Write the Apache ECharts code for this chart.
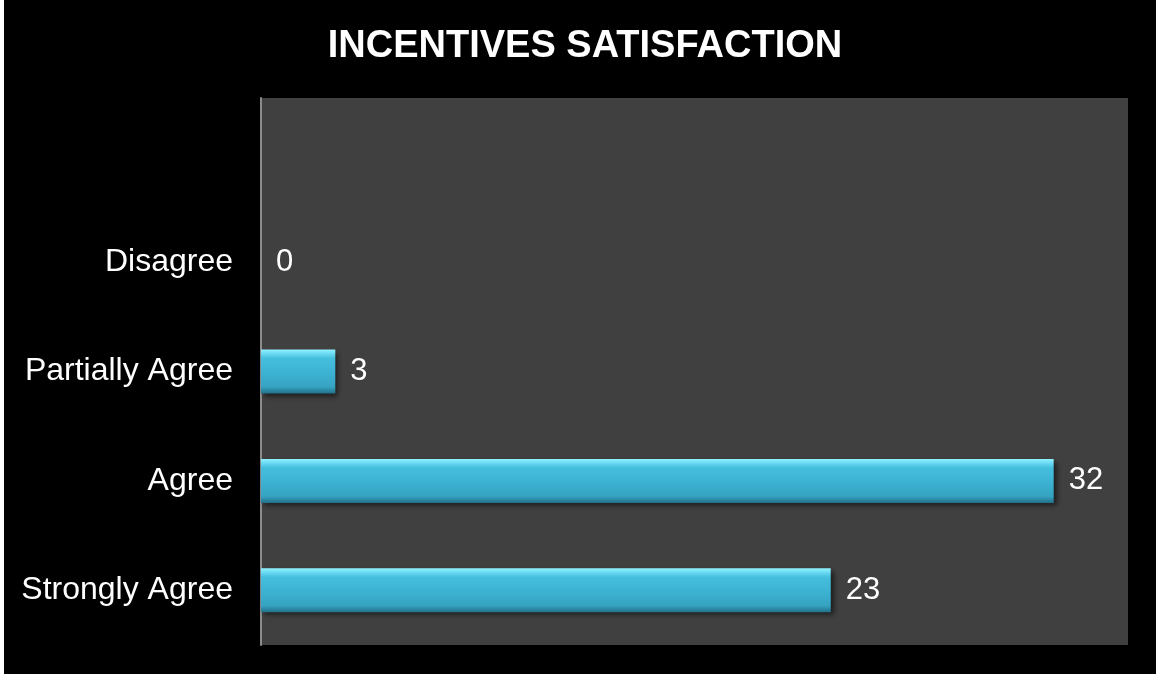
<!DOCTYPE html>
<html>
<head>
<meta charset="utf-8">
<script src="https://cdn.jsdelivr.net/npm/echarts@6/dist/echarts.min.js"></script>
<style>
  html, body { margin: 0; padding: 0; background: #ffffff; width: 1156px; height: 675px; overflow: hidden; }
  #chart { position: absolute; left: 4px; top: 0; width: 1152px; height: 674px; background: #000000; }
</style>
</head>
<body>
<div id="chart"></div>
<script>
// Survey responses, listed bottom to top; the top slot is left empty.
const categories = ['Strongly Agree', 'Agree', 'Partially Agree', 'Disagree', ''];
const responses = [23, 32, 3, 0, null];
const axisMax = 35;

const chart = echarts.init(document.getElementById('chart'), null, { renderer: 'canvas' });

const barFill = new echarts.graphic.LinearGradient(0, 0, 0, 1, [
  { offset: 0, color: '#90f4ff' },
  { offset: 0.1, color: '#6ad8f2' },
  { offset: 0.2, color: '#45bfde' },
  { offset: 0.55, color: '#3cb1d1' },
  { offset: 0.85, color: '#36a3c1' },
  { offset: 1, color: '#22708a' }
]);

chart.setOption({
  backgroundColor: '#000000',
  animation: false,
  title: {
    text: 'INCENTIVES SATISFACTION',
    left: 576,
    top: 23,
    textAlign: 'center',
    textStyle: { color: '#ffffff', fontFamily: 'Liberation Sans, Arial, sans-serif', fontWeight: 'bold', fontSize: 38 }
  },
  grid: {
    left: 257, right: 28, top: 98, bottom: 29,
    show: true, backgroundColor: '#404040', borderWidth: 0
  },
  xAxis: {
    type: 'value', min: 0, max: axisMax,
    show: false
  },
  yAxis: {
    type: 'category',
    data: categories,
    axisLine: { show: true, lineStyle: { color: '#8c8c8c', width: 2 } },
    axisTick: { show: false },
    splitLine: { show: false },
    axisLabel: {
      color: '#ffffff', fontSize: 32, margin: 28,
      fontFamily: 'Liberation Sans, Arial, sans-serif'
    }
  },
  series: [{
    type: 'bar',
    data: responses,
    barWidth: 44,
    itemStyle: {
      color: barFill,
      borderWidth: 0,
      shadowColor: 'rgba(0,0,0,0.55)',
      shadowBlur: 5,
      shadowOffsetX: 3,
      shadowOffsetY: 3
    },
    label: {
      show: true,
      position: 'right',
      distance: 15,
      color: '#ffffff',
      fontSize: 31,
      fontFamily: 'Liberation Sans, Arial, sans-serif'
    }
  }]
});
</script>
</body>
</html>
